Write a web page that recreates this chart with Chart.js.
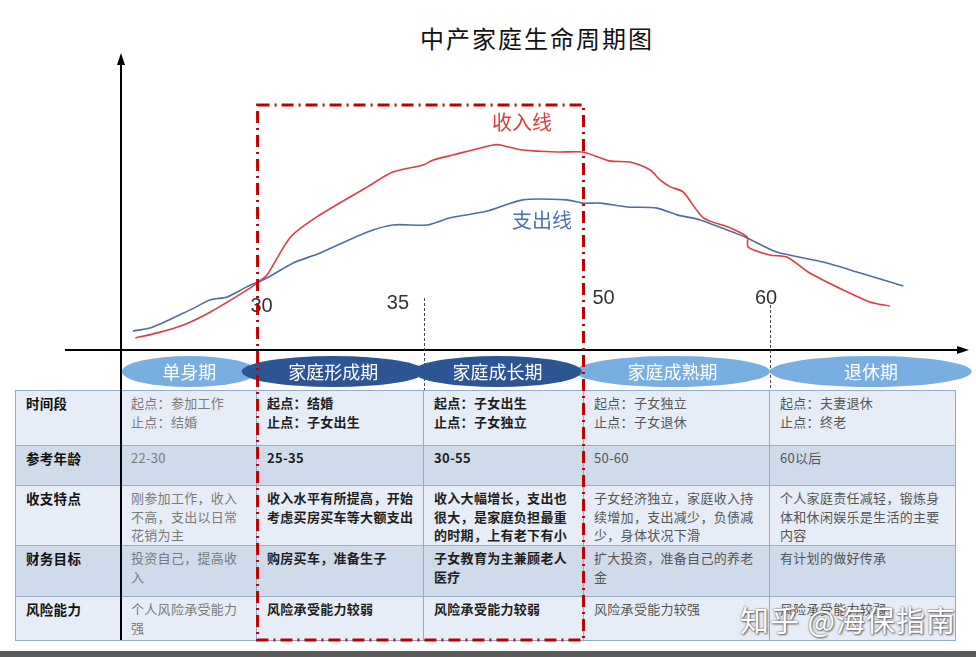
<!DOCTYPE html>
<html>
<head>
<meta charset="utf-8">
<script src="https://cdn.jsdelivr.net/npm/chart.js@4/dist/chart.umd.min.js"></script>
<style>
  html, body { margin: 0; padding: 0; background: #fff; }
  body { width: 976px; height: 657px; position: relative; overflow: hidden;
         font-family: "Noto Sans CJK SC", sans-serif; }
  #title { position: absolute; left: 0; width: 1074px; top: 20px; text-align: center;
           font-size: 24px; letter-spacing: 2px; color: #111; }
  #tbl { position: absolute; left: 15px; top: 390px; border-collapse: collapse;
         table-layout: fixed; font-size: 13px; letter-spacing: 0.3px; }
  #tbl td { border: 1px solid #93acd0; vertical-align: top; padding: 3px 0 0 10px;
            line-height: 18.5px; white-space: nowrap; overflow: hidden; }
  #tbl tr.lt td { background: #e7edf6; }
  #tbl tr.dk td { background: #cfdaeb; }
  #tbl td.hd { font-weight: bold; color: #111; font-size: 13.5px; }
  #tbl td.c1 { color: #7a7a7a; }
  #tbl td.c2, #tbl td.c3 { color: #1e1e1e; font-weight: bold; }
  #tbl td.c4, #tbl td.c5 { color: #555; }
  #mark { position: absolute; left: 740px; top: 598px; font-size: 29px; color: #fff;
          letter-spacing: 1px;
          text-shadow: 0 0 2px #555, 1px 1px 2px #666; }
  #foot { position: absolute; left: 0; top: 651px; width: 976px; height: 6px; background: #5a5a5a; }
  #c { position: absolute; left: 0; top: 0; pointer-events: none; }
</style>
</head>
<body>
<div id="title">中产家庭生命周期图</div>
<table id="tbl"></table>
<div id="mark">知乎 @海保指南</div>
<div id="foot"></div>
<canvas id="c" width="976" height="657"></canvas>
<script>
// timeline position (0 = y axis, 100 = arrow end) and relative level
const incomeX = [1.7, 4.3, 7.4, 10.6, 14.9, 16.1, 17.3, 20.0, 23.2, 29.2, 32.2, 35.8, 37.0, 39.3,
  44.1, 44.9, 47.6, 51.7, 54.7, 57.9, 60.3, 62.7, 63.9, 65.1, 66.6, 69.0, 72.2, 74.2, 74.3,
  76.9, 78.9, 81.6, 85.6, 88.7, 91.1]
const incomeY = [4.1, 5.8, 8.5, 12.9, 20.3, 22.7, 25.4, 38.0, 45.1, 55.3, 60.3, 62.7, 64.4, 66.1,
  69.5, 69.5, 67.8, 67.1, 67.1, 64.1, 63.7, 61.0, 57.6, 55.3, 53.6, 44.8, 41.4, 38.3, 34.9,
  32.2, 31.5, 26.1, 20.3, 16.3, 14.9]
const expenseX = [1.4, 3.8, 8.2, 10.6, 12.6, 14.9, 17.3, 20.4, 23.6, 29.2, 32.2, 36.3, 39.0,
  43.4, 47.6, 52.8, 54.7, 56.8, 60.0, 63.5, 65.9, 68.6, 71.8, 74.2, 77.7, 83.2, 87.6, 92.7]
const expenseY = [6.4, 7.8, 13.6, 17.0, 18.0, 21.4, 24.4, 29.5, 32.9, 40.0, 42.4, 42.4, 44.8,
  47.1, 50.9, 50.9, 49.8, 49.8, 48.5, 48.1, 45.8, 44.1, 40.7, 38.0, 33.2, 29.8, 26.1, 21.7]

const ageTicks = ['30', '35', '50', '60']
const agePos   = [16.3, 35.9, 54.8, 76.9]

const stages     = ['单身期', '家庭形成期', '家庭成长期', '家庭成熟期', '退休期']
const stageStart = [0.1, 14.3, 34.6, 53.8, 76.9]
const stageEnd   = [16.1, 36.0, 54.6, 76.9, 100.8]
const stageDark  = [false, true, true, false, false]

const rowHeads = ['时间段', '参考年龄', '收支特点', '财务目标', '风险能力']
const rowTexts = [
  ['起点：参加工作<br>止点：结婚', '起点：结婚<br>止点：子女出生', '起点：子女出生<br>止点：子女独立',
   '起点：子女独立<br>止点：子女退休', '起点：夫妻退休<br>止点：终老'],
  ['22-30', '25-35', '30-55', '50-60', '60以后'],
  ['刚参加工作，收入<br>不高，支出以日常<br>花销为主', '收入水平有所提高，开始<br>考虑买房买车等大额支出',
   '收入大幅增长，支出也<br>很大，是家庭负担最重<br>的时期，上有老下有小',
   '子女经济独立，家庭收入持<br>续增加，支出减少，负债减<br>少，身体状况下滑',
   '个人家庭责任减轻，锻炼身<br>体和休闲娱乐是生活的主要<br>内容'],
  ['投资自己，提高收<br>入', '购房买车，准备生子', '子女教育为主兼顾老人<br>医疗', '扩大投资，准备自己的养老<br>金', '有计划的做好传承'],
  ['个人风险承受能力<br>强', '风险承受能力较弱', '风险承受能力较弱', '风险承受能力较强', '风险承受能力较弱'],
]

// table
const colW = [105, 136, 167, 160, 186, 186]
const rowH = [55, 40, 60, 51, 44]
const tbl = document.getElementById('tbl')
let cg = '<colgroup>' + colW.map(w => `<col style="width:${w}px">`).join('') + '</colgroup>'
let html = cg
rowHeads.forEach((h, r) => {
  html += `<tr class="${r % 2 ? 'dk' : 'lt'}" style="height:${rowH[r]}px"><td class="hd">${h}</td>`
  rowTexts[r].forEach((t, i) => { html += `<td class="c${i + 1}">${t}</td>` })
  html += '</tr>'
})
tbl.innerHTML = html
tbl.style.width = colW.reduce((a, b) => a + b, 0) + 'px'

const RED = '#e23a40'
const BLUE = '#4f6f9f'

const lifePlugin = {
  id: 'life',
  beforeDatasetsDraw(chart) {
    const { ctx, chartArea: a, scales: { x, y } } = chart
    ctx.save()
    // axes
    ctx.strokeStyle = '#000'
    ctx.fillStyle = '#000'
    ctx.lineWidth = 2
    ctx.beginPath()
    ctx.moveTo(65, a.bottom); ctx.lineTo(a.right, a.bottom)
    ctx.moveTo(a.left, a.top + 6); ctx.lineTo(a.left, 640)
    ctx.stroke()
    ctx.beginPath()
    ctx.moveTo(a.right + 4, a.bottom); ctx.lineTo(a.right - 8, a.bottom - 4); ctx.lineTo(a.right - 8, a.bottom + 4)
    ctx.closePath(); ctx.fill()
    ctx.beginPath()
    ctx.moveTo(a.left, a.top - 2); ctx.lineTo(a.left - 4, a.top + 10); ctx.lineTo(a.left + 4, a.top + 10)
    ctx.closePath(); ctx.fill()

    // thin dotted age markers
    ctx.strokeStyle = '#444'
    ctx.lineWidth = 1
    ctx.setLineDash([3, 2])
    ctx.beginPath()
    ctx.moveTo(x.getPixelForValue(agePos[1]) + 0.5, 298); ctx.lineTo(x.getPixelForValue(agePos[1]) + 0.5, 390)
    ctx.moveTo(x.getPixelForValue(agePos[3]) + 0.5, 305); ctx.lineTo(x.getPixelForValue(agePos[3]) + 0.5, 390)
    ctx.stroke()
    ctx.setLineDash([])

    // stage ellipses
    const cy = a.bottom + 21.5
    const order = [0, 3, 4, 1, 2]
    order.forEach(i => {
      const x0 = x.getPixelForValue(stageStart[i]), x1 = x.getPixelForValue(stageEnd[i])
      ctx.fillStyle = stageDark[i] ? '#2d5493' : '#78afe0'
      ctx.beginPath()
      ctx.ellipse((x0 + x1) / 2, cy, (x1 - x0) / 2, 15.5, 0, 0, Math.PI * 2)
      ctx.fill()
    })
    ctx.fillStyle = '#fff'
    ctx.font = '18px "Noto Sans CJK SC"'
    ctx.textAlign = 'center'
    ctx.textBaseline = 'middle'
    stages.forEach((s, i) => {
      const xc = (x.getPixelForValue(stageStart[i]) + x.getPixelForValue(stageEnd[i])) / 2
      ctx.fillText(s, xc, cy + 1)
    })

    // age labels
    const labelShift = [3, -26, 20, -4]
    const labelY = [306, 303, 298, 298]
    ctx.fillStyle = '#333'
    ctx.font = '20px "Liberation Sans", Arial, sans-serif'
    ageTicks.forEach((t, i) => ctx.fillText(t, x.getPixelForValue(agePos[i]) + labelShift[i], labelY[i]))

    // series labels
    ctx.font = '20px "Noto Sans CJK SC"'
    ctx.fillStyle = RED
    ctx.fillText('收入线', 522, 122)
    ctx.fillStyle = '#4a72b0'
    ctx.fillText('支出线', 542, 220)
    ctx.restore()
  },
  afterDatasetsDraw(chart) {
    const { ctx, scales: { x } } = chart
    const l = x.getPixelForValue(agePos[0]) - 1, r = x.getPixelForValue(agePos[2])
    ctx.save()
    ctx.strokeStyle = '#c00000'
    ctx.lineWidth = 3
    ctx.setLineDash([12, 5, 2, 5])
    ctx.strokeRect(l, 105, r - l, 535)
    ctx.restore()
  },
}

new Chart(document.getElementById('c'), {
  type: 'line',
  data: {
    datasets: [
      { label: '收入线', data: incomeX.map((v, i) => ({ x: v, y: incomeY[i] })),
        borderColor: RED, borderWidth: 1.6, pointRadius: 0, tension: 0.25 },
      { label: '支出线', data: expenseX.map((v, i) => ({ x: v, y: expenseY[i] })),
        borderColor: BLUE, borderWidth: 1.6, pointRadius: 0, tension: 0.25 },
    ],
  },
  options: {
    responsive: false,
    animation: false,
    devicePixelRatio: 1,
    layout: { padding: { left: 121, right: 11, top: 55, bottom: 307 } },
    plugins: { legend: { display: false }, tooltip: { enabled: false } },
    scales: {
      x: { type: 'linear', min: 0, max: 100, display: false },
      y: { min: 0, max: 100, display: false },
    },
  },
  plugins: [lifePlugin],
})
</script>
</body>
</html>
